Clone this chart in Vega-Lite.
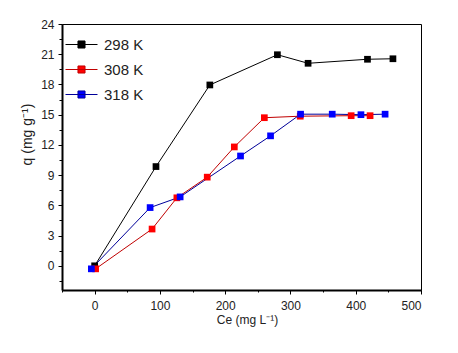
{
  "$schema": "https://vega.github.io/schema/vega-lite/v6.json",
  "width": 359,
  "height": 266,
  "autosize": {"type": "none"},
  "padding": {"left": 62, "top": 24, "right": 37, "bottom": 63},
  "background": "white",
  "config": {
    "view": {"stroke": "black", "strokeWidth": 1},
    "font": "Liberation Sans"
  },
  "data": {
    "values": [
      {"series": "298 K", "ce": 0, "q": 0},
      {"series": "298 K", "ce": 94, "q": 9.85},
      {"series": "298 K", "ce": 176.5, "q": 17.95},
      {"series": "298 K", "ce": 280, "q": 20.95},
      {"series": "298 K", "ce": 327, "q": 20.1},
      {"series": "298 K", "ce": 418, "q": 20.5},
      {"series": "298 K", "ce": 457, "q": 20.55},
      {"series": "308 K", "ce": 1.5, "q": -0.3},
      {"series": "308 K", "ce": 88, "q": 3.65},
      {"series": "308 K", "ce": 126, "q": 6.75},
      {"series": "308 K", "ce": 172.5, "q": 8.8},
      {"series": "308 K", "ce": 214, "q": 11.8},
      {"series": "308 K", "ce": 260, "q": 14.7},
      {"series": "308 K", "ce": 315, "q": 14.85},
      {"series": "308 K", "ce": 393, "q": 14.9},
      {"series": "308 K", "ce": 422, "q": 14.9},
      {"series": "318 K", "ce": -5, "q": -0.3},
      {"series": "318 K", "ce": 85, "q": 5.78},
      {"series": "318 K", "ce": 131, "q": 6.84},
      {"series": "318 K", "ce": 223.5, "q": 10.9},
      {"series": "318 K", "ce": 269.5, "q": 12.9},
      {"series": "318 K", "ce": 315.5, "q": 15.05},
      {"series": "318 K", "ce": 364, "q": 15.05},
      {"series": "318 K", "ce": 408, "q": 15.0},
      {"series": "318 K", "ce": 445, "q": 15.05}
    ]
  },
  "encoding": {
    "x": {
      "field": "ce", "type": "quantitative",
      "scale": {"domain": [-50, 500], "nice": false, "zero": false},
      "axis": {
        "title": "Ce (mg L⁻¹)",
        "values": [-50, 0, 50, 100, 150, 200, 250, 300, 350, 400, 450, 500],
        "labelExpr": "datum.value % 100 === 0 ? format(datum.value, 'd') : ''",
        "tickSize": {"condition": {"test": "datum.value % 100 === 0", "value": 4}, "value": 2},
        "grid": false,
        "domainColor": "black", "domainWidth": 2,
        "tickColor": "black", "tickWidth": 1,
        "labelFont": "Liberation Sans", "labelFontSize": 12, "labelColor": "#222",
        "labelPadding": 6,
        "titleFont": "Liberation Sans", "titleFontSize": 12, "titleFontWeight": "normal", "titleColor": "#222",
        "titlePadding": 3,
        "titleX": 185, "titleAlign": "center"
      }
    },
    "y": {
      "field": "q", "type": "quantitative",
      "scale": {"domain": [-2.4, 24], "nice": false, "zero": false},
      "axis": {
        "title": "q (mg g⁻¹)",
        "values": [-1.5, 0, 1.5, 3, 4.5, 6, 7.5, 9, 10.5, 12, 13.5, 15, 16.5, 18, 19.5, 21, 22.5, 24],
        "labelExpr": "datum.value % 3 === 0 ? format(datum.value, 'd') : ''",
        "tickSize": {"condition": {"test": "datum.value % 3 === 0", "value": 4}, "value": 3},
        "grid": false,
        "domainColor": "black", "domainWidth": 2,
        "tickColor": "black", "tickWidth": 1,
        "labelFont": "Liberation Sans", "labelFontSize": 12, "labelColor": "#222",
        "labelPadding": 4,
        "titleFont": "Liberation Sans", "titleFontSize": 14, "titleFontWeight": "normal", "titleColor": "#222",
        "titleX": -35, "titleY": 110, "titleAngle": 270, "titleAlign": "center", "titleBaseline": "middle"
      }
    }
  },
  "layer": [
    {
      "mark": {"type": "line", "strokeWidth": 1},
      "encoding": {
        "stroke": {
          "field": "series", "type": "nominal",
          "scale": {"domain": ["298 K", "308 K", "318 K"], "range": ["#000000", "#c00000", "#000099"]},
          "legend": {
            "title": null,
            "orient": "none",
            "legendX": 3,
            "legendY": 4,
            "padding": 0,
            "symbolType": "M-1,0H1M-0.22,-0.22H0.22V0.22H-0.22Z",
            "symbolSize": 1024,
            "symbolStrokeWidth": 1,
            "symbolOpacity": 1,
            "labelFont": "Liberation Sans",
            "labelFontSize": 15,
            "labelColor": "#222",
            "labelOffset": 6,
            "rowPadding": 0
          }
        }
      }
    },
    {
      "mark": {"type": "point", "shape": "square", "filled": true, "size": 45, "opacity": 1},
      "encoding": {
        "fill": {
          "field": "series", "type": "nominal",
          "scale": {"domain": ["298 K", "308 K", "318 K"], "range": ["#000000", "#ff0000", "#0000ff"]},
          "legend": null
        }
      }
    }
  ]
}
